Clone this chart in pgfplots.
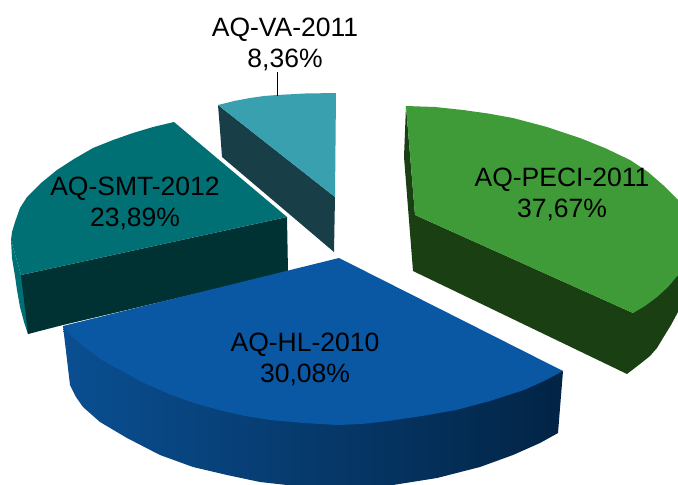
\documentclass[border=0pt]{standalone}
\usepackage{pgfplots}
\pgfplotsset{compat=1.18}
\usepackage{fontspec}
\setmainfont{Liberation Sans}
\definecolor{peciTop}{HTML}{3F9A38}
\definecolor{peciSide}{HTML}{1A3F12}
\definecolor{hlTop}{HTML}{0A57A4}
\definecolor{hlLeft}{HTML}{0A4F92}
\definecolor{hlMid}{HTML}{053A72}
\definecolor{hlRight}{HTML}{022445}
\definecolor{smtTop}{HTML}{007075}
\definecolor{smtSide}{HTML}{003234}
\definecolor{vaTop}{HTML}{38A0AE}
\definecolor{vaSide}{HTML}{183F48}
\begin{document}
\begin{tikzpicture}
\useasboundingbox (0,0) rectangle (678pt,485pt);
\begin{axis}[
  at={(0,0)},
  anchor=south west,
  scale only axis,
  width=678pt,
  height=485pt,
  xmin=0, xmax=678,
  ymin=0, ymax=485,
  y dir=reverse,
  axis lines=none,
  clip=true,
  every axis plot/.append style={draw=none, mark=none, line width=0pt}
]
% AQ-SMT-2012
\addplot[fill=smtTop] coordinates {(11,240)(12,258)(15,276)(17,290)(20,307)(24,322)(28,334)(40,330)(21,275)} -- cycle;
\addplot[fill=smtSide] coordinates {(21,275)(287,217)(288,272)(63,325)(28,334)} -- cycle;
\addplot[fill=smtTop] coordinates {(174,122)(153,127)(133,133)(113,140)(93,148)(74,159)(57,170)(41,183)(27,197)(20,208)(15,222)(12,232)(11,240)(21,275)(287,217)} -- cycle;
% AQ-VA-2011
\addplot[fill=vaSide] coordinates {(218,105)(220,130)(222,157)(334,252)(335,197)} -- cycle;
\addplot[fill=vaTop] coordinates {(218,105)(234,101)(250,98)(264,96)(277,95)(305,93.5)(336,93)(335,197)} -- cycle;
% AQ-PECI-2011
\addplot[fill=peciSide] coordinates {(406,106)(404,157)(413,271)(627,374)(640,364)(650,356)(657,348)(663,338)(671,325)(678,312)(678,275)(633,313)(415,215)} -- cycle;
\addplot[fill=peciTop] coordinates {(406,106)(435,107)(463,110)(488,113.5)(513,118)(547,127)(580,138)(606,148.5)(630,160)(648,172)(663,185)(678,200)(678,275)(668,287)(657,297)(645,306)(633,313)(415,215)} -- cycle;
% AQ-HL-2010
\addplot[shade, left color=hlLeft, middle color=hlMid, right color=hlRight] coordinates {(63,326)(70,385)(76,397)(83,407)(100,422)(127,438)(160,455)(193,467)(227,475)(260,482)(287,485)(290,490)(390,490)(393,485)(437,478)(480,467)(513,455)(540,443)(558,433)(563,371)} -- cycle;
\addplot[fill=hlTop] coordinates {(63,326)(72,336)(83,346)(100,359)(118,369)(142,382)(169,394)(194,403)(219,410)(245,416)(270,420)(304,423)(337,425)(362,424)(388,421)(422,416)(456,410)(490,401)(524,390)(544,381)(563,371)(339,258)} -- cycle;
% leader line
\addplot[draw=black, line width=0.9pt] coordinates {(277,72)(277,96)};
% labels
\node[align=center, font=\fontsize{26.5}{31.5}\selectfont] at (axis cs:285,44.5) {AQ-VA-2011\\8,36\%};
\node[align=center, font=\fontsize{26.5}{31.5}\selectfont] at (axis cs:135,203.5) {AQ-SMT-2012\\23,89\%};
\node[align=center, font=\fontsize{26.5}{31.5}\selectfont] at (axis cs:562,194.5) {AQ-PECI-2011\\37,67\%};
\node[align=center, font=\fontsize{26.5}{31.5}\selectfont] at (axis cs:305,359.5) {AQ-HL-2010\\30,08\%};
\end{axis}
\end{tikzpicture}
\end{document}
